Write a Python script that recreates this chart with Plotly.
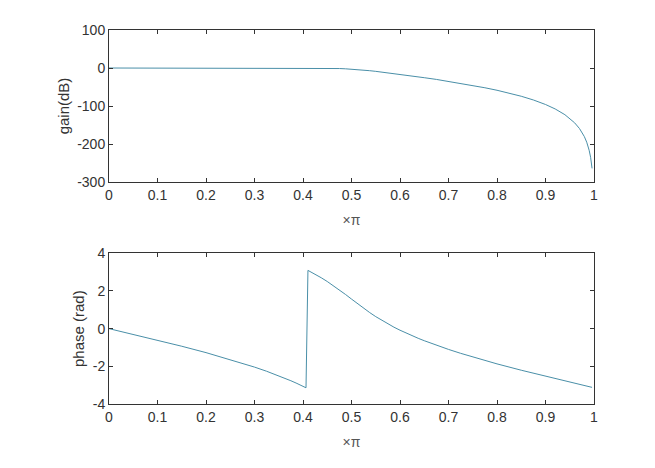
import plotly.graph_objects as go
from plotly.subplots import make_subplots

# frequency (x pi) and gain in dB
gain_x = [0, 0.05, 0.1, 0.15, 0.2, 0.25, 0.3, 0.35, 0.4, 0.425, 0.45, 0.4625, 0.475, 0.4875, 0.5,
          0.5125, 0.525, 0.5375, 0.55, 0.5625, 0.575, 0.5875, 0.6, 0.625, 0.65, 0.675, 0.7, 0.725,
          0.75, 0.775, 0.8, 0.825, 0.85, 0.875, 0.9, 0.92, 0.94, 0.96, 0.97, 0.98, 0.985,
          0.99, 0.993, 0.996]
gain_db = [0, 0, 0, 0, 0, 0, 0, -0.01, -0.09, -0.24, -0.61, -0.94, -1.43, -2.11, -3.01,
           -4.16, -5.53, -7.09, -8.82, -10.65, -12.64, -14.68, -16.74, -21.04, -25.53, -30.04, -35.15, -40.40,
           -45.94, -51.97, -58.59, -65.96, -74.36, -84.16, -96.03, -107.8, -122.9, -144.2, -159.2, -180.3, -195.3,
           -216.5, -235.1, -264.2]

# frequency (x pi) and phase in rad
phase_x = [0, 0.05, 0.1, 0.15, 0.2, 0.25, 0.275, 0.3, 0.325, 0.3375, 0.35, 0.3625, 0.375, 0.3875,
           0.4, 0.405, 0.4062, 0.4102, 0.4125, 0.425, 0.4375, 0.45, 0.4625, 0.475, 0.4875, 0.5,
           0.5125, 0.525, 0.5375, 0.55, 0.5625, 0.575, 0.5875, 0.6, 0.6125, 0.625, 0.6375,
           0.65, 0.6625, 0.675, 0.7, 0.725, 0.75, 0.8, 0.85, 0.9, 0.95, 0.996]
phase_rad = [0, -0.304, -0.614, -0.934, -1.272, -1.636, -1.833, -2.040, -2.262, -2.379, -2.502, -2.630, -2.765, -2.908,
             -3.059, -3.123, -3.139, 3.094, 3.063, 2.890, 2.704, 2.503, 2.288, 2.058, 1.818, 1.571,
             1.324, 1.083, 0.854, 0.639, 0.438, 0.252, 0.078, -0.082, -0.234, -0.376, -0.512,
             -0.640, -0.762, -0.880, -1.102, -1.309, -1.505, -1.870, -2.207, -2.528, -2.837, -3.117]

x_ticks = [0, 0.1, 0.2, 0.3, 0.4, 0.5, 0.6, 0.7, 0.8, 0.9, 1]
x_tick_text = ["0", "0.1", "0.2", "0.3", "0.4", "0.5", "0.6", "0.7", "0.8", "0.9", "1"]
gain_ticks = [-300, -200, -100, 0, 100]
gain_tick_text = ["-300", "-200", "-100", "0", "100"]
phase_ticks = [-4, -2, 0, 2, 4]
phase_tick_text = ["-4", "-2", "0", "2", "4"]

LINE = "#4a8fa8"
AX = "#333333"
FONT = "Arial, Liberation Sans, sans-serif"

fig = make_subplots(rows=2, cols=1)
fig.add_trace(go.Scatter(x=gain_x, y=gain_db, mode="lines",
                         line=dict(color=LINE, width=1)), row=1, col=1)
fig.add_trace(go.Scatter(x=phase_x, y=phase_rad, mode="lines",
                         line=dict(color=LINE, width=1)), row=2, col=1)

common_x = dict(range=[0, 1], tickvals=x_ticks, ticktext=x_tick_text, automargin=False,
                ticks="inside", ticklen=4, tickcolor=AX, showline=True,
                linecolor=AX, linewidth=1, mirror="ticks", showgrid=False,
                zeroline=False, tickfont=dict(size=14, color=AX, family=FONT),
                title=dict(text="×π", font=dict(size=14, color="#555555", family=FONT),
                           standoff=13))
common_y = dict(ticks="inside", ticklen=4, tickcolor=AX, showline=True, automargin=False,
                linecolor=AX, linewidth=1, mirror="ticks", showgrid=False,
                zeroline=False, tickfont=dict(size=14, color=AX, family=FONT))

fig.update_xaxes(**common_x)
fig.update_yaxes(**common_y)
fig.update_yaxes(range=[-300, 100], tickvals=gain_ticks, ticktext=gain_tick_text,
                 title=dict(text="gain(dB)", font=dict(size=15, color=AX, family=FONT), standoff=3),
                 row=1, col=1)
fig.update_yaxes(range=[-4, 4], tickvals=phase_ticks, ticktext=phase_tick_text,
                 title=dict(text="phase (rad)", font=dict(size=15, color=AX, family=FONT), standoff=4),
                 row=2, col=1)

fig.update_layout(
    width=639, height=452,
    margin=dict(l=101, r=53, t=22, b=56),
    paper_bgcolor="white", plot_bgcolor="white",
    showlegend=False,
    xaxis=dict(domain=[0, 1]), yaxis=dict(domain=[0.5936, 1]),
    xaxis2=dict(domain=[0, 1]), yaxis2=dict(domain=[0, 0.4029]),
)

fig.write_html("out.html")
